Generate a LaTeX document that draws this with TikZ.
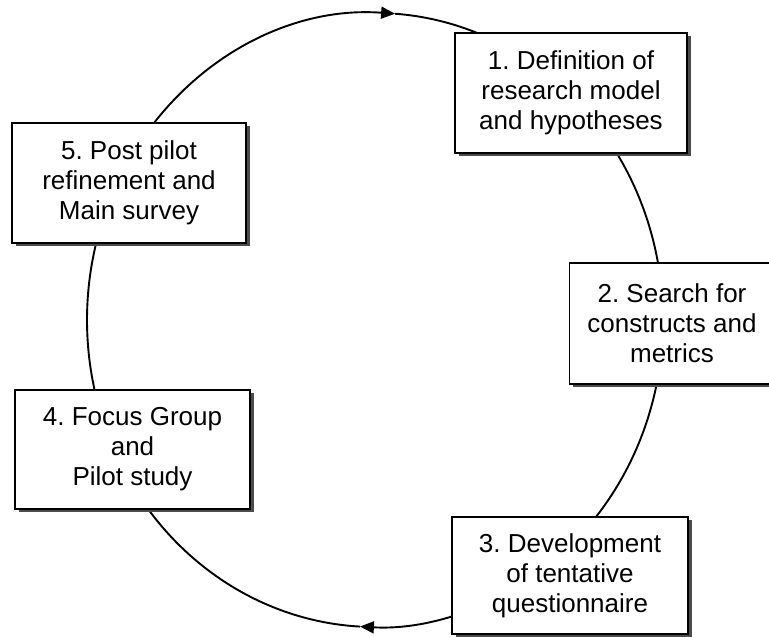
\documentclass[tikz,border=0pt]{standalone}
\usepackage{fontspec}
\setmainfont{Liberation Sans}
\usetikzlibrary{shadows,backgrounds,arrows.meta,calc}
\frenchspacing

\begin{document}
\begin{tikzpicture}[x=1pt,y=1pt,
  stagebox/.style={draw=black, line width=1.3pt, fill=white, align=center,
    inner sep=0pt, font=\fontsize{26}{30}\selectfont,
    drop shadow={shadow xshift=3.5pt, shadow yshift=-3.5pt, fill=black!70, opacity=1}},
  cycleline/.style={line width=1.9pt, black},
  cycletip/.style={-{Triangle[length=14pt,width=12pt]}},
  ell/.style={x radius=288pt, y radius=307pt}]

\useasboundingbox (0,0) rectangle (769,637);

% centre of the cycle
\coordinate (c) at (375,317);

% the five stages
\node[stagebox, minimum width=232pt, minimum height=120pt] (s1) at (571,544)
  {1. Definition of\\research model\\and hypotheses};
\node[stagebox, minimum width=205pt, minimum height=121pt] (s2) at (672,313.5)
  {2. Search for\\constructs and\\metrics};
\node[stagebox, minimum width=236pt, minimum height=117pt] (s3) at (570,61.5)
  {3. Development\\of tentative\\questionnaire};
\node[stagebox, minimum width=235pt, minimum height=119pt] (s4) at (132.5,187.5)
  {4. Focus Group\\and\\Pilot study};
\node[stagebox, minimum width=234pt, minimum height=120pt] (s5) at (129,454)
  {5. Post pilot\\refinement and\\Main survey};

% cycle arcs running under the boxes
\begin{pgfonlayer}{background}
  \coordinate (p1) at ($(c)+(52:288pt and 307pt)$);
  \coordinate (p2) at ($(c)+(0:288pt and 307pt)$);
  \coordinate (p3) at ($(c)+(-56:288pt and 307pt)$);
  \coordinate (p4) at ($(c)+(211:288pt and 307pt)$);
  \coordinate (p5) at ($(c)+(153:288pt and 307pt)$);
  \coordinate (ttop) at ($(c)+(86:288pt and 307pt)$);
  \coordinate (tbot) at ($(c)+(267:288pt and 307pt)$);

  \draw[cycleline, cycletip] (p5) arc[ell, start angle=153, end angle=86];
  \draw[cycleline] (ttop) arc[ell, start angle=86, end angle=52];
  \draw[cycleline] (p1) arc[ell, start angle=52, end angle=0];
  \draw[cycleline] (p2) arc[ell, start angle=0, end angle=-56];
  \draw[cycleline, cycletip] (p3) arc[ell, start angle=-56, end angle=-93];
  \draw[cycleline] (tbot) arc[ell, start angle=267, end angle=211];
  \draw[cycleline] (p4) arc[ell, start angle=211, end angle=153];
\end{pgfonlayer}
\end{tikzpicture}
\end{document}
